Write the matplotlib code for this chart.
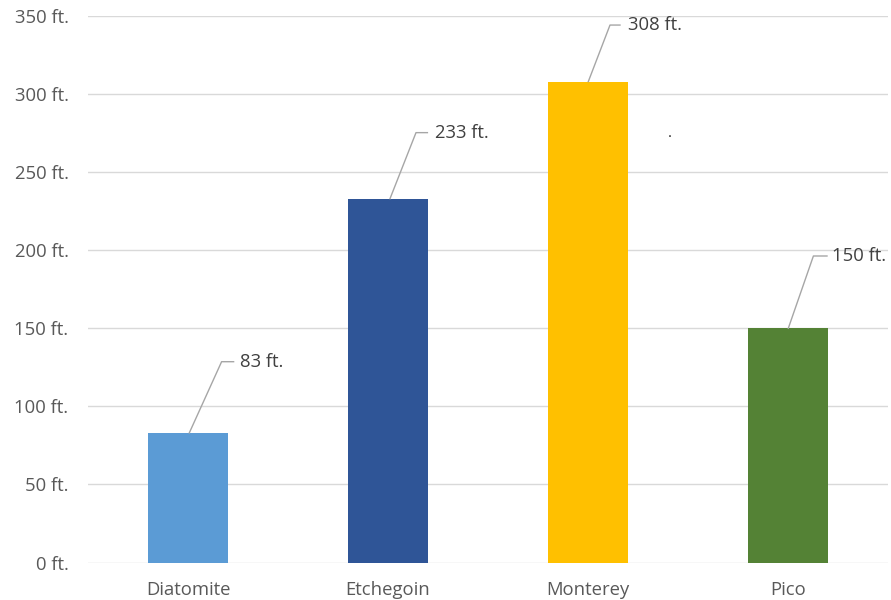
import matplotlib
matplotlib.use("Agg")
import matplotlib.pyplot as plt

# ---- data ----
categories = ["Diatomite", "Etchegoin", "Monterey", "Pico"]
values = [83, 233, 308, 150]
value_labels = ["83 ft.", "233 ft.", "308 ft.", "150 ft."]
yticks = [0, 50, 100, 150, 200, 250, 300, 350]
ytick_labels = ["0 ft.", "50 ft.", "100 ft.", "150 ft.", "200 ft.", "250 ft.", "300 ft.", "350 ft."]

# ---- styles / layout ----
colors = ["#5B9BD5", "#2F5597", "#FFC000", "#548235"]
text_color = "#595959"
grid_color = "#D9D9D9"
leader_color = "#A6A6A6"
# leader-line geometry (category units for x, data units for label height)
lead_start = [0.0065, 0.010, 0.0015, 0.0015]
lead_elbow = [0.168, 0.140, 0.110, 0.127]
lead_end = [0.228, 0.197, 0.160, 0.195]
label_x = [0.262, 0.234, 0.200, 0.218]
label_y = [128.6, 275.3, 344.2, 196.3]

plt.rcParams["font.family"] = ["Open Sans", "DejaVu Sans"]
FS = 13.3

fig = plt.figure(figsize=(8.91, 6.0), dpi=100)
ax = fig.add_axes([88 / 891, 37.5 / 600, 800 / 891, 546.5 / 600])

x = list(range(len(categories)))
ax.bar(x, values, width=0.4, color=colors, zorder=3)

ax.set_xlim(-0.5, len(categories) - 0.5)
ax.set_ylim(0, 350)
ax.set_yticks(yticks)
ax.set_yticklabels(ytick_labels)
ax.set_xticks(x)
ax.set_xticklabels(categories)
ax.tick_params(axis="both", length=0, colors=text_color, labelsize=FS)
ax.tick_params(axis="y", pad=14)
ax.tick_params(axis="x", pad=13)
ax.grid(axis="y", color=grid_color, linewidth=1.0, zorder=0)
for s in ax.spines.values():
    s.set_visible(False)

for i, v in enumerate(values):
    xs = [i + lead_start[i], i + lead_elbow[i], i + lead_end[i]]
    ys = [v, label_y[i], label_y[i]]
    ax.plot(xs, ys, color=leader_color, linewidth=1.0, zorder=4, clip_on=False)
    ax.text(i + label_x[i], label_y[i], value_labels[i], color="#404040",
            fontsize=FS, va="center", ha="left", zorder=5)

# stray dot present in the original
ax.text(2.41, 270, ".", color="#222222", fontsize=11, ha="center", va="bottom")

fig.savefig("out.png", dpi=100)
